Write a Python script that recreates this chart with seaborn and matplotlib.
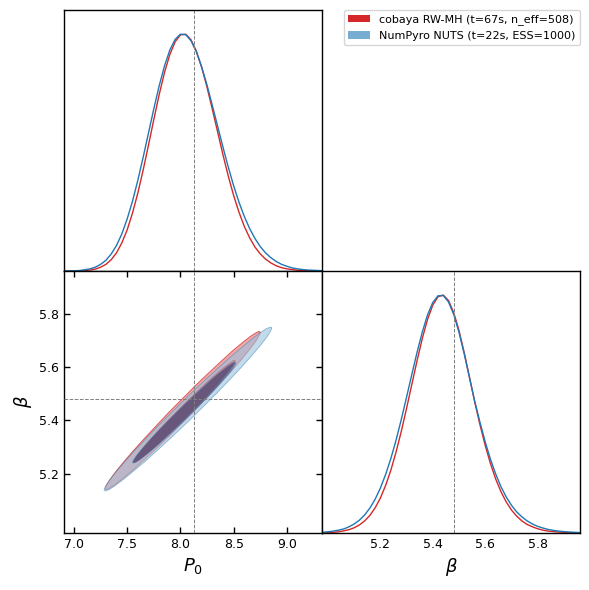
import matplotlib
import matplotlib.pyplot as plt
import numpy as np
import seaborn as sns
from matplotlib.patches import Patch, PathPatch
from matplotlib.path import Path

RED = "#d62728"
BLUE = "#1f77b4"

LABELS = ["cobaya RW-MH (t=67s, n_eff=508)", "NumPyro NUTS (t=22s, ESS=1000)"]

P0_TRUE = 8.13
BETA_TRUE = 5.48

# 1D marginal densities (normalised to peak 1)
p0_grid = [6.9, 6.95, 7.0, 7.05, 7.1, 7.15, 7.2, 7.25, 7.3, 7.35,
           7.4, 7.45, 7.5, 7.55, 7.6, 7.65, 7.7, 7.75, 7.8, 7.85,
           7.9, 7.95, 8.0, 8.05, 8.1, 8.15, 8.2, 8.25, 8.3, 8.35,
           8.4, 8.45, 8.5, 8.55, 8.6, 8.65, 8.7, 8.75, 8.8, 8.85,
           8.9, 8.95, 9.0, 9.05, 9.1, 9.15, 9.2, 9.25, 9.3, 9.35]
p0_red = [0, 0, 0, 0.001, 0.002, 0.004, 0.008, 0.016, 0.028, 0.048,
          0.077, 0.119, 0.174, 0.245, 0.329, 0.426, 0.531, 0.639, 0.743, 0.836,
          0.912, 0.966, 0.995, 0.998, 0.974, 0.926, 0.858, 0.774, 0.681, 0.585,
          0.489, 0.399, 0.318, 0.248, 0.188, 0.14, 0.101, 0.072, 0.05, 0.034,
          0.022, 0.014, 0.009, 0.006, 0.003, 0.002, 0.001, 0.001, 0, 0]
p0_blue = [0, 0, 0.001, 0.002, 0.005, 0.009, 0.016, 0.028, 0.045, 0.072,
           0.108, 0.157, 0.22, 0.295, 0.383, 0.48, 0.582, 0.684, 0.78, 0.864,
           0.931, 0.976, 0.998, 0.996, 0.97, 0.923, 0.859, 0.783, 0.697, 0.609,
           0.521, 0.437, 0.359, 0.29, 0.23, 0.179, 0.137, 0.103, 0.076, 0.056,
           0.04, 0.028, 0.02, 0.013, 0.009, 0.006, 0.004, 0.003, 0.002, 0.001]

beta_grid = [4.98, 5.0, 5.02, 5.04, 5.06, 5.08, 5.1, 5.12, 5.14, 5.16,
             5.18, 5.2, 5.22, 5.24, 5.26, 5.28, 5.3, 5.32, 5.34, 5.36,
             5.38, 5.4, 5.42, 5.44, 5.46, 5.48, 5.5, 5.52, 5.54, 5.56,
             5.58, 5.6, 5.62, 5.64, 5.66, 5.68, 5.7, 5.72, 5.74, 5.76,
             5.78, 5.8, 5.82, 5.84, 5.86, 5.88, 5.9, 5.92, 5.94, 5.96]
beta_red = [0.001, 0.002, 0.003, 0.005, 0.009, 0.014, 0.022, 0.034, 0.051, 0.074,
            0.106, 0.147, 0.2, 0.264, 0.341, 0.428, 0.524, 0.624, 0.724, 0.817,
            0.897, 0.957, 0.992, 0.999, 0.976, 0.925, 0.85, 0.757, 0.654, 0.55,
            0.455, 0.368, 0.292, 0.227, 0.174, 0.131, 0.097, 0.071, 0.051, 0.036,
            0.026, 0.018, 0.012, 0.008, 0.006, 0.004, 0.003, 0.002, 0.001, 0.001]
beta_blue = [0.003, 0.005, 0.008, 0.012, 0.017, 0.026, 0.038, 0.054, 0.076, 0.105,
             0.142, 0.189, 0.246, 0.313, 0.391, 0.478, 0.571, 0.666, 0.759, 0.844,
             0.916, 0.968, 0.996, 0.997, 0.97, 0.917, 0.843, 0.752, 0.653, 0.554,
             0.465, 0.383, 0.31, 0.248, 0.195, 0.152, 0.117, 0.089, 0.068, 0.051,
             0.038, 0.028, 0.021, 0.015, 0.011, 0.008, 0.006, 0.004, 0.003, 0.002]

# 2D contour outlines (68% and 95%), (P0, beta) vertices
red95_p0 = [8.751, 8.739, 8.707, 8.653, 8.58, 8.49, 8.386, 8.271, 8.148, 8.021,
            7.894, 7.772, 7.656, 7.552, 7.462, 7.389, 7.336, 7.303, 7.292, 7.303,
            7.336, 7.389, 7.462, 7.552, 7.656, 7.772, 7.894, 8.021, 8.148, 8.271,
            8.386, 8.49, 8.58, 8.653, 8.707, 8.739]
red95_beta = [5.731, 5.735, 5.729, 5.715, 5.692, 5.662, 5.624, 5.581, 5.534, 5.483,
              5.432, 5.38, 5.33, 5.284, 5.242, 5.206, 5.177, 5.156, 5.144, 5.14,
              5.146, 5.16, 5.183, 5.213, 5.251, 5.294, 5.341, 5.392, 5.443, 5.495,
              5.545, 5.591, 5.633, 5.669, 5.698, 5.719]
red68_p0 = [8.516, 8.509, 8.487, 8.452, 8.404, 8.345, 8.276, 8.201, 8.12, 8.037,
            7.954, 7.873, 7.798, 7.729, 7.67, 7.622, 7.587, 7.566, 7.558, 7.566,
            7.587, 7.622, 7.67, 7.729, 7.798, 7.873, 7.954, 8.037, 8.12, 8.201,
            8.276, 8.345, 8.404, 8.452, 8.487, 8.509]
red68_beta = [5.624, 5.626, 5.623, 5.613, 5.599, 5.579, 5.555, 5.527, 5.496, 5.464,
              5.43, 5.397, 5.365, 5.335, 5.308, 5.284, 5.266, 5.252, 5.244, 5.242,
              5.245, 5.254, 5.269, 5.289, 5.313, 5.341, 5.372, 5.404, 5.438, 5.471,
              5.503, 5.533, 5.561, 5.584, 5.602, 5.616]
blue95_p0 = [8.858, 8.846, 8.811, 8.753, 8.674, 8.577, 8.464, 8.34, 8.207, 8.07,
             7.933, 7.8, 7.676, 7.563, 7.466, 7.387, 7.329, 7.294, 7.282, 7.294,
             7.329, 7.387, 7.466, 7.563, 7.676, 7.8, 7.933, 8.07, 8.207, 8.34,
             8.464, 8.577, 8.674, 8.753, 8.811, 8.846]
blue95_beta = [5.748, 5.751, 5.746, 5.731, 5.707, 5.675, 5.637, 5.592, 5.543, 5.491,
               5.437, 5.384, 5.332, 5.284, 5.24, 5.203, 5.173, 5.151, 5.138, 5.135,
               5.14, 5.155, 5.179, 5.211, 5.249, 5.294, 5.343, 5.395, 5.449, 5.502,
               5.554, 5.602, 5.646, 5.683, 5.713, 5.735]
blue68_p0 = [8.52, 8.512, 8.491, 8.455, 8.406, 8.347, 8.277, 8.201, 8.119, 8.035,
             7.951, 7.869, 7.793, 7.723, 7.664, 7.615, 7.579, 7.558, 7.55, 7.558,
             7.579, 7.615, 7.664, 7.723, 7.793, 7.869, 7.951, 8.035, 8.119, 8.201,
             8.277, 8.347, 8.406, 8.455, 8.491, 8.512]
blue68_beta = [5.616, 5.618, 5.615, 5.606, 5.591, 5.572, 5.548, 5.52, 5.49, 5.458,
               5.425, 5.392, 5.361, 5.331, 5.304, 5.282, 5.263, 5.25, 5.242, 5.24,
               5.243, 5.252, 5.267, 5.286, 5.31, 5.338, 5.368, 5.4, 5.433, 5.466,
               5.497, 5.527, 5.554, 5.576, 5.595, 5.608]


def pale(c, f):
    rgb = np.array(matplotlib.colors.to_rgb(c))
    return tuple(rgb * (1 - f) + f)


def closed(xs, ys):
    return np.append(xs, xs[0]), np.append(ys, ys[0])


def filled_contours(ax, outer, inner, col, alpha, palefactor):
    # outer band (pale) with a hole, inner region in full colour
    ox, oy = closed(*outer)
    ix, iy = closed(*inner)
    band = Path.make_compound_path(Path(np.column_stack([ox, oy])),
                                   Path(np.column_stack([ix[::-1], iy[::-1]])))
    ax.add_patch(PathPatch(band, facecolor=pale(col, palefactor), edgecolor="none",
                           alpha=alpha, zorder=1))
    ax.fill(ix, iy, color=col, alpha=alpha, lw=0, zorder=1)
    ax.plot(ox, oy, color=col, lw=0.6, alpha=alpha * 0.8, zorder=1)
    ax.plot(ix, iy, color=col, lw=0.6, alpha=alpha * 0.8, zorder=1)


def main():
    sns.set_theme(style="white")
    plt.rcParams["font.family"] = ["DejaVu Sans"]
    plt.rcParams["axes.edgecolor"] = "black"
    plt.rcParams["axes.linewidth"] = 1.0
    plt.rcParams["xtick.color"] = "black"
    plt.rcParams["ytick.color"] = "black"
    plt.rcParams["axes.labelcolor"] = "black"
    plt.rcParams["text.color"] = "black"

    fig = plt.figure(figsize=(5.89, 5.90), dpi=100)
    ax_top = fig.add_axes([64 / 589, 1 - 271 / 590, 258 / 589, 261 / 590])
    ax_2d = fig.add_axes([64 / 589, 1 - 533 / 590, 258 / 589, 262 / 590])
    ax_right = fig.add_axes([322 / 589, 1 - 533 / 590, 258 / 589, 262 / 590])

    p0_lim = (6.906, 9.33)
    beta_lim = (4.977, 5.962)

    # 1D marginals
    sns.lineplot(x=p0_grid, y=p0_red, ax=ax_top, color=RED, lw=1)
    sns.lineplot(x=p0_grid, y=p0_blue, ax=ax_top, color=BLUE, lw=1)
    sns.lineplot(x=beta_grid, y=beta_red, ax=ax_right, color=RED, lw=1)
    sns.lineplot(x=beta_grid, y=beta_blue, ax=ax_right, color=BLUE, lw=1)
    ax_top.axvline(P0_TRUE, color="gray", ls="--", lw=0.7)
    ax_right.axvline(BETA_TRUE, color="gray", ls="--", lw=0.7)

    # 2D contours
    filled_contours(ax_2d, (red95_p0, red95_beta), (red68_p0, red68_beta), RED, 1.0, 0.6)
    filled_contours(ax_2d, (blue95_p0, blue95_beta), (blue68_p0, blue68_beta), BLUE, 0.6, 0.55)
    ax_2d.axvline(P0_TRUE, color="gray", ls="--", lw=0.7, zorder=3)
    ax_2d.axhline(BETA_TRUE, color="gray", ls="--", lw=0.7, zorder=3)

    for ax in (ax_top, ax_2d):
        ax.set_xlim(p0_lim)
        ax.set_xticks([7.0, 7.5, 8.0, 8.5, 9.0])
    ax_2d.set_ylim(beta_lim)
    ax_2d.set_yticks([5.2, 5.4, 5.6, 5.8])
    ax_right.set_xlim(beta_lim)
    ax_right.set_xticks([5.2, 5.4, 5.6, 5.8])
    ax_top.set_ylim(0, 1.1)
    ax_right.set_ylim(0, 1.1)

    ax_top.set_yticks([])
    ax_right.set_yticks([])
    ax_top.tick_params(axis="x", direction="in", length=4, width=1, labelbottom=False)
    ax_right.tick_params(axis="x", direction="in", length=4, width=1, labelsize=9)
    ax_2d.tick_params(direction="in", length=4, width=1, labelsize=9,
                      top=True, right=True, bottom=True, left=True)
    ax_2d.set_xlabel(r"$P_0$", fontsize=13)
    ax_2d.set_ylabel(r"$\beta$", fontsize=13)
    ax_right.set_xlabel(r"$\beta$", fontsize=13)
    ax_top.set_xlabel("")
    ax_top.set_ylabel("")
    ax_right.set_ylabel("")

    handles = [Patch(facecolor=RED, edgecolor="none"),
               Patch(facecolor=BLUE, alpha=0.6, edgecolor="none")]
    fig.legend(handles, LABELS, loc="upper right", borderaxespad=0,
               bbox_to_anchor=(580 / 589, 1 - 10 / 590), fontsize=8, frameon=True)

    fig.savefig("out.png", dpi=100)


if __name__ == "__main__":
    main()
